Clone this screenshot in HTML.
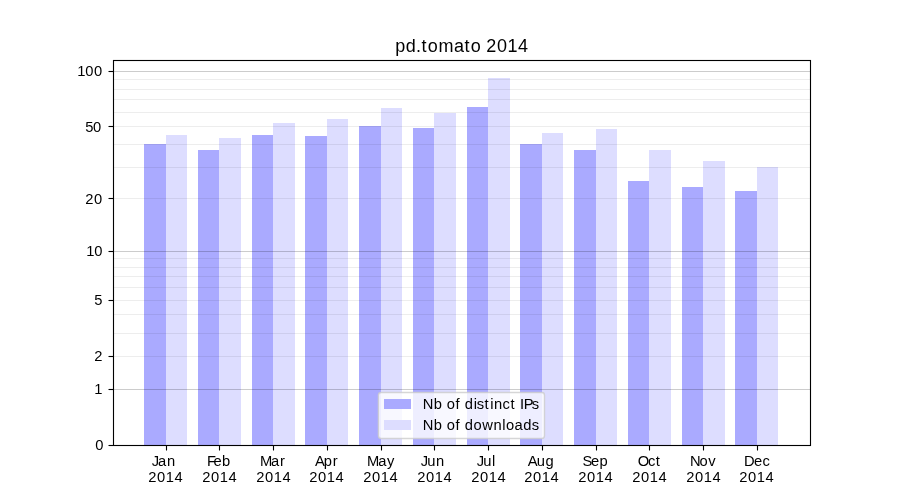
<!DOCTYPE html>
<html lang="en">
<head>
<meta charset="utf-8">
<title>pd.tomato 2014</title>
<style>
html,body{margin:0;padding:0;background:#ffffff;}
body{width:900px;height:500px;overflow:hidden;}
svg{display:block;will-change:transform;}
text{font-family:"Liberation Sans",sans-serif;fill:#000000;white-space:pre;}
</style>
</head>
<body>
<svg width="900" height="500" viewBox="0 0 900 500">
<rect x="0" y="0" width="900" height="500" fill="#ffffff"/>
<!-- bars -->
<g shape-rendering="crispEdges">
<rect x="144" y="144" width="22" height="301" fill="#aaaaff"/>
<rect x="166" y="135" width="21" height="310" fill="#ddddff"/>
<rect x="198" y="150" width="21" height="295" fill="#aaaaff"/>
<rect x="219" y="138" width="22" height="307" fill="#ddddff"/>
<rect x="252" y="135" width="21" height="310" fill="#aaaaff"/>
<rect x="273" y="123" width="22" height="322" fill="#ddddff"/>
<rect x="305" y="136" width="22" height="309" fill="#aaaaff"/>
<rect x="327" y="119" width="21" height="326" fill="#ddddff"/>
<rect x="359" y="126" width="22" height="319" fill="#aaaaff"/>
<rect x="381" y="108" width="21" height="337" fill="#ddddff"/>
<rect x="413" y="128" width="21" height="317" fill="#aaaaff"/>
<rect x="434" y="113" width="22" height="332" fill="#ddddff"/>
<rect x="467" y="107" width="21" height="338" fill="#aaaaff"/>
<rect x="488" y="78" width="22" height="367" fill="#ddddff"/>
<rect x="520" y="144" width="22" height="301" fill="#aaaaff"/>
<rect x="542" y="133" width="21" height="312" fill="#ddddff"/>
<rect x="574" y="150" width="22" height="295" fill="#aaaaff"/>
<rect x="596" y="129" width="21" height="316" fill="#ddddff"/>
<rect x="628" y="181" width="21" height="264" fill="#aaaaff"/>
<rect x="649" y="150" width="22" height="295" fill="#ddddff"/>
<rect x="682" y="187" width="21" height="258" fill="#aaaaff"/>
<rect x="703" y="161" width="22" height="284" fill="#ddddff"/>
<rect x="735" y="191" width="22" height="254" fill="#aaaaff"/>
<rect x="757" y="167" width="21" height="278" fill="#ddddff"/>
</g>
<!-- grid -->
<g shape-rendering="crispEdges" fill="#000000">
<rect x="114" y="79" width="696" height="1" fill-opacity="0.07"/>
<rect x="114" y="89" width="696" height="1" fill-opacity="0.07"/>
<rect x="114" y="99" width="696" height="1" fill-opacity="0.07"/>
<rect x="114" y="112" width="696" height="1" fill-opacity="0.07"/>
<rect x="114" y="126" width="696" height="1" fill-opacity="0.07"/>
<rect x="114" y="144" width="696" height="1" fill-opacity="0.07"/>
<rect x="114" y="167" width="696" height="1" fill-opacity="0.07"/>
<rect x="114" y="198" width="696" height="1" fill-opacity="0.07"/>
<rect x="114" y="258" width="696" height="1" fill-opacity="0.07"/>
<rect x="114" y="267" width="696" height="1" fill-opacity="0.07"/>
<rect x="114" y="276" width="696" height="1" fill-opacity="0.07"/>
<rect x="114" y="287" width="696" height="1" fill-opacity="0.07"/>
<rect x="114" y="300" width="696" height="1" fill-opacity="0.07"/>
<rect x="114" y="314" width="696" height="1" fill-opacity="0.07"/>
<rect x="114" y="333" width="696" height="1" fill-opacity="0.07"/>
<rect x="114" y="356" width="696" height="1" fill-opacity="0.07"/>
<rect x="114" y="71" width="696" height="1" fill-opacity="0.2"/>
<rect x="114" y="251" width="696" height="1" fill-opacity="0.2"/>
<rect x="114" y="389" width="696" height="1" fill-opacity="0.2"/>
</g>
<!-- legend -->
<rect x="378.4" y="392.5" width="166.1" height="46" rx="2.8" ry="2.8" fill="#ffffff" fill-opacity="0.8" stroke="#cccccc" stroke-opacity="0.8" stroke-width="1.39"/>
<g shape-rendering="crispEdges"><rect x="384" y="399" width="27" height="10" fill="#aaaaff"/><rect x="384" y="420" width="27" height="10" fill="#ddddff"/></g>
<!-- ticks and spines -->
<g stroke="#000000" stroke-width="1.111" fill="none">
<line x1="166.5" y1="445.5" x2="166.5" y2="450.50"/>
<line x1="219.5" y1="445.5" x2="219.5" y2="450.50"/>
<line x1="273.5" y1="445.5" x2="273.5" y2="450.50"/>
<line x1="327.5" y1="445.5" x2="327.5" y2="450.50"/>
<line x1="381.5" y1="445.5" x2="381.5" y2="450.50"/>
<line x1="434.5" y1="445.5" x2="434.5" y2="450.50"/>
<line x1="488.5" y1="445.5" x2="488.5" y2="450.50"/>
<line x1="542.5" y1="445.5" x2="542.5" y2="450.50"/>
<line x1="596.5" y1="445.5" x2="596.5" y2="450.50"/>
<line x1="649.5" y1="445.5" x2="649.5" y2="450.50"/>
<line x1="703.5" y1="445.5" x2="703.5" y2="450.50"/>
<line x1="757.5" y1="445.5" x2="757.5" y2="450.50"/>
<line x1="108.50" y1="71.5" x2="113.5" y2="71.5"/>
<line x1="108.50" y1="126.5" x2="113.5" y2="126.5"/>
<line x1="108.50" y1="198.5" x2="113.5" y2="198.5"/>
<line x1="108.50" y1="251.5" x2="113.5" y2="251.5"/>
<line x1="108.50" y1="300.5" x2="113.5" y2="300.5"/>
<line x1="108.50" y1="356.5" x2="113.5" y2="356.5"/>
<line x1="108.50" y1="389.5" x2="113.5" y2="389.5"/>
<line x1="108.50" y1="445.5" x2="113.5" y2="445.5"/>
<rect x="113.5" y="60.5" width="697" height="385"/>
</g>
<!-- text (identity filter forces grayscale antialiasing) -->
<defs><filter id="gs" x="0" y="0" width="900" height="500" filterUnits="userSpaceOnUse" color-interpolation-filters="sRGB"><feOffset dx="0" dy="0"/></filter></defs>
<g filter="url(#gs)">
<text id="title" x="395.13 405.74 416.00 421.61 427.76 438.50 453.99 464.44 470.83 481.05 486.26 497.06 507.54 517.96" y="52" font-size="18.00">pd.tomato 2014</text>
<text id="y100" x="77.17 85.20 94.02" y="76" font-size="14.72">100</text>
<text id="y50" x="85.14 92.90" y="132" font-size="14.72">50</text>
<text id="y20" x="85.26 94.02" y="204" font-size="14.72">20</text>
<text id="y10" x="86.24 94.27" y="256" font-size="14.72">10</text>
<text id="y5" x="94.22" y="305" font-size="14.72">5</text>
<text id="y2" x="94.34" y="361" font-size="14.72">2</text>
<text id="y1" x="94.20" y="394" font-size="14.72">1</text>
<text id="y0" x="95.27" y="450" font-size="14.72">0</text>
<text id="mJan" x="151.76 157.98 167.06" y="466" font-size="14.72">Jan</text>
<text id="yrJan" x="148.18 157.07 165.82 174.60" y="482" font-size="14.72">2014</text>
<text id="mFeb" x="207.11 213.58 222.06" y="466" font-size="14.72">Feb</text>
<text id="yrFeb" x="202.17 211.05 219.80 228.58" y="482" font-size="14.72">2014</text>
<text id="mMar" x="260.07 270.94 280.10" y="466" font-size="14.72">Mar</text>
<text id="yrMar" x="256.15 265.04 273.79 282.57" y="482" font-size="14.72">2014</text>
<text id="mApr" x="315.12 323.67 332.75" y="466" font-size="14.72">Apr</text>
<text id="yrApr" x="309.14 318.02 326.78 335.55" y="482" font-size="14.72">2014</text>
<text id="mMay" x="366.91 378.16 386.95" y="466" font-size="14.72">May</text>
<text id="yrMay" x="363.13 372.01 380.76 389.54" y="482" font-size="14.72">2014</text>
<text id="mJun" x="420.67 427.16 436.01" y="466" font-size="14.72">Jun</text>
<text id="yrJun" x="417.36 426.12 434.87 443.53" y="482" font-size="14.72">2014</text>
<text id="mJul" x="476.63 483.24 492.05" y="466" font-size="14.72">Jul</text>
<text id="yrJul" x="471.35 480.11 488.86 497.51" y="482" font-size="14.72">2014</text>
<text id="mAug" x="527.64 536.82 545.57" y="466" font-size="14.72">Aug</text>
<text id="yrAug" x="524.21 533.09 541.85 550.62" y="482" font-size="14.72">2014</text>
<text id="mSep" x="582.58 591.02 599.50" y="466" font-size="14.72">Sep</text>
<text id="yrSep" x="578.32 587.08 595.83 604.48" y="482" font-size="14.72">2014</text>
<text id="mOct" x="637.82 647.97 655.64" y="466" font-size="14.72">Oct</text>
<text id="yrOct" x="632.31 641.07 649.82 658.47" y="482" font-size="14.72">2014</text>
<text id="mNov" x="690.02 699.43 708.19" y="466" font-size="14.72">Nov</text>
<text id="yrNov" x="686.17 695.05 703.80 712.58" y="482" font-size="14.72">2014</text>
<text id="mDec" x="743.92 754.01 762.56" y="466" font-size="14.72">Dec</text>
<text id="yrDec" x="739.15 748.04 756.79 765.57" y="482" font-size="14.72">2014</text>
<text id="leg1" x="422.78 433.68 442.37 446.66 455.56 460.16 464.64 473.76 476.73 484.56 490.29 494.05 502.48 510.53 515.62 520.12 523.71 531.74" y="409" font-size="14.72">Nb of distinct IPs</text>
<text id="leg2" x="422.78 433.68 442.50 446.66 455.56 460.28 464.76 473.50 482.18 493.39 502.26 505.98 514.45 523.30 531.78" y="430" font-size="14.72">Nb of downloads</text>
</g>
</svg>
</body>
</html>
